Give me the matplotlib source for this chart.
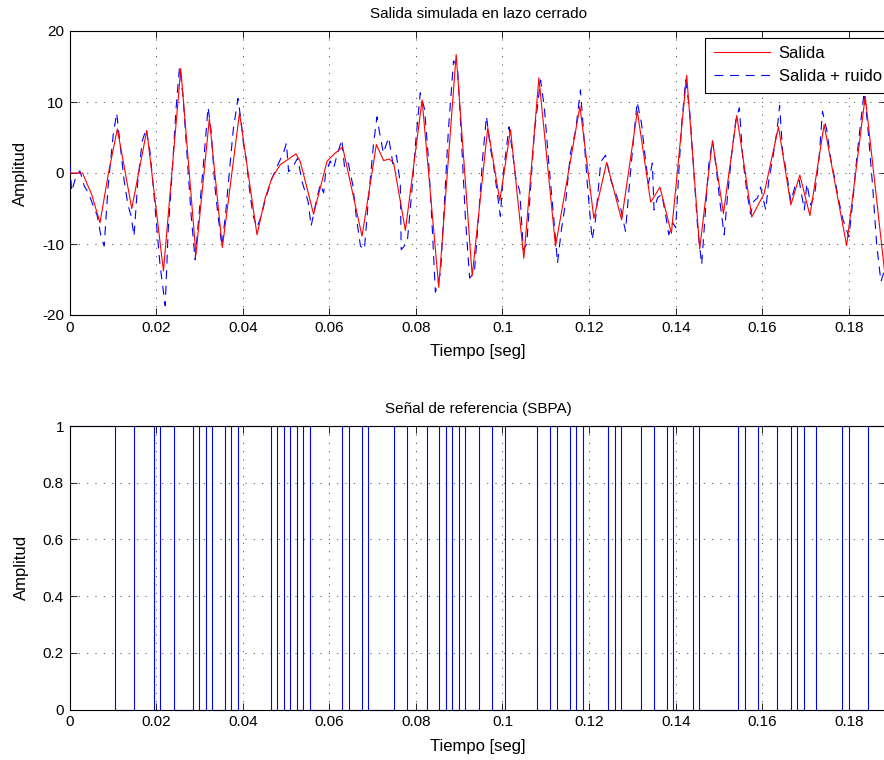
import numpy as np
import matplotlib
matplotlib.use('Agg')
from matplotlib import pyplot as plt

plt.rcParams['font.family'] = ['Liberation Sans', 'DejaVu Sans']
plt.rcParams['axes.unicode_minus'] = False

# salida (sin ruido)
t_sal = [0.0, 0.003, 0.0051, 0.00705, 0.009, 0.01105, 0.01438, 0.01785, 0.0217, 0.0257,
         0.0292, 0.0323, 0.0353, 0.03926, 0.0433, 0.0452, 0.04675, 0.04867, 0.0506, 0.0523,
         0.0533, 0.05637, 0.05947, 0.061, 0.06308, 0.06756, 0.07087, 0.07256, 0.07387, 0.07487,
         0.07757, 0.08143, 0.08528, 0.0893, 0.093, 0.0966, 0.09938, 0.10185, 0.10493, 0.1084,
         0.11225, 0.11788, 0.12111, 0.12405, 0.12751, 0.13114, 0.13422, 0.13637, 0.139, 0.14254,
         0.14555, 0.14848, 0.15103, 0.15411, 0.15757, 0.16042, 0.16374, 0.16659, 0.16867, 0.171,
         0.17428, 0.17947, 0.18377, 0.18832]
y_sal = [0.0, 0.0, -3.0, -7.0, 0.0, 6.2, -5.0, 6.0, -13.8, 14.7,
         -11.5, 7.65, -10.5, 8.45, -8.7, -3.5, -0.7, 1.17, 1.97, 2.7,
         1.6, -5.8, 1.65, 2.6, 3.66, -8.9, 4.0, 1.75, 1.97, 1.4,
         -8.1, 10.3, -16.1, 16.7, -14.5, 6.4, -3.9, 6.1, -12.0, 13.4,
         -10.3, 9.4, -6.4, 1.5, -6.6, 8.7, -4.1, -2.0, -8.5, 13.75,
         -10.7, 4.55, -5.7, 8.1, -6.2, -2.9, 6.5, -4.5, -0.3, -6.0,
         6.8, -10.2, 10.8, -14.3]

# salida + ruido
t_ruido = [0.0001, 0.0005, 0.0015, 0.0024, 0.0034, 0.0045, 0.0054, 0.0064, 0.0073, 0.0080,
           0.0089, 0.0101, 0.0109, 0.0117, 0.0126, 0.0135, 0.0142, 0.0149, 0.0158, 0.0168,
           0.0177, 0.0186, 0.0195, 0.0209, 0.0221, 0.0228, 0.0237, 0.0246, 0.0254, 0.0262,
           0.0272, 0.0281, 0.0290, 0.0299, 0.0309, 0.0320, 0.0327, 0.0336, 0.0343, 0.0352,
           0.0360, 0.0369, 0.0378, 0.0389, 0.0397, 0.0402, 0.0408, 0.0417, 0.0424, 0.0433,
           0.0443, 0.0452, 0.0468, 0.0483, 0.0494, 0.0501, 0.0506, 0.0514, 0.0527, 0.0537,
           0.0551, 0.0558, 0.0568, 0.0579, 0.0587, 0.0591, 0.0602, 0.0610, 0.0616, 0.0629,
           0.0635, 0.0643, 0.0654, 0.0662, 0.0672, 0.0681, 0.0690, 0.0702, 0.0710, 0.0718,
           0.0725, 0.0737, 0.0747, 0.0755, 0.0764, 0.0766, 0.0780, 0.0790, 0.0799, 0.0810,
           0.0820, 0.0829, 0.0838, 0.0845, 0.0857, 0.0866, 0.0875, 0.0887, 0.0896, 0.0905,
           0.0914, 0.0924, 0.0935, 0.0945, 0.0954, 0.0963, 0.0972, 0.0980, 0.0986, 0.0995,
           0.1002, 0.1015, 0.1023, 0.1030, 0.1040, 0.1048, 0.1056, 0.1065, 0.1074, 0.1088,
           0.1097, 0.1106, 0.1119, 0.1127, 0.1136, 0.1146, 0.1157, 0.1169, 0.1180, 0.1187,
           0.1196, 0.1207, 0.1215, 0.1227, 0.1238, 0.1250, 0.1265, 0.1273, 0.1284, 0.1294,
           0.1303, 0.1311, 0.1321, 0.1330, 0.1337, 0.1346, 0.1350, 0.1358, 0.1368, 0.1377,
           0.1384, 0.1393, 0.1400, 0.1407, 0.1414, 0.1423, 0.1432, 0.1442, 0.1451, 0.1460,
           0.1469, 0.1476, 0.1485, 0.1493, 0.1502, 0.1512, 0.1520, 0.1530, 0.1539, 0.1547,
           0.1555, 0.1564, 0.1573, 0.1580, 0.1589, 0.1596, 0.1608, 0.1615, 0.1624, 0.1634,
           0.1640, 0.1647, 0.1656, 0.1666, 0.1675, 0.1685, 0.1697, 0.1703, 0.1712, 0.1721,
           0.1731, 0.1739, 0.1749, 0.1758, 0.1768, 0.1777, 0.1786, 0.1793, 0.1800, 0.1809,
           0.1818, 0.1827, 0.1835, 0.1843, 0.1855, 0.1864, 0.1874, 0.1883]
y_ruido = [1.2, -2.6, -0.5, 0.3, -1.8, -3.0, -4.5, -6.0, -9.0, -10.3,
           -2.0, 5.4, 8.45, 4.0, -1.0, -4.5, -6.0, -8.9, -1.0, 4.5,
           6.2, 3.0, -3.0, -12.9, -18.7, -8.0, 0.0, 9.0, 14.9, 11.0,
           2.0, -6.0, -12.2, -6.0, 1.0, 9.25, 6.0, -2.0, -6.0, -10.3,
           -6.0, 0.0, 6.0, 10.5, 7.0, 4.0, 2.0, -3.0, -6.0, -7.7,
           -6.0, -3.8, -0.7, 1.4, 2.8, 4.2, 0.2, 0.7, 2.1, -1.2,
           -4.0, -7.5, -4.5, -1.6, -2.8, -0.2, 1.7, 0.7, 2.1, 4.7,
           0.9, 1.6, -1.6, -6.0, -10.3, -10.8, -4.0, 4.0, 7.9, 5.0,
           2.8, 5.0, 1.3, 2.5, -1.5, -10.8, -9.8, -3.0, 4.0, 11.3,
           9.0, 2.0, -8.0, -16.8, -14.0, -4.0, 6.0, 15.8, 15.0, 5.0,
           -6.0, -14.8, -14.0, -6.0, 2.0, 8.0, 3.5, 0.8, -2.0, -6.1,
           0.0, 6.5, 3.0, -0.5, -2.6, -10.8, -10.0, -2.0, 6.0, 13.1,
           9.0, 2.0, -6.8, -12.7, -8.0, -4.0, 2.8, 6.0, 11.7, 6.0,
           -1.6, -9.4, -6.5, 1.6, 2.5, -1.0, -3.5, -5.0, -8.2, -1.0,
           5.0, 10.0, 7.0, 2.0, -1.5, 1.4, -5.2, -3.5, -3.0, -6.0,
           -8.7, -7.0, -7.7, 0.0, 7.0, 13.1, 9.0, 0.0, -8.0, -12.9,
           -5.0, 1.0, 4.6, 1.0, -4.0, -8.7, -3.0, 3.0, 7.5, 9.2,
           2.0, -2.5, -5.8, -4.0, -3.5, -2.0, -5.2, -1.0, 2.0, 6.0,
           9.5, 3.0, 0.0, -4.0, -2.0, -1.0, -5.2, -1.5, -4.5, -3.0,
           2.0, 8.7, 6.0, 2.0, -1.0, -4.0, -6.5, -7.7, -9.0, -4.0,
           2.0, 7.0, 11.3, 7.0, -2.0, -10.0, -15.3, -13.5]

# senal de referencia SBPA: instantes de conmutacion, empieza en 1
u_inicio = 1
t_conm = [0.01045, 0.01491, 0.01947, 0.02099, 0.02409, 0.02855, 0.03001, 0.03149, 0.03302, 0.03595,
          0.03741, 0.03889, 0.04647, 0.04798, 0.04953, 0.05098, 0.05244, 0.05399, 0.05545, 0.06301,
          0.06446, 0.06747, 0.06895, 0.07496, 0.07797, 0.0825, 0.08543, 0.08689, 0.08844, 0.0899,
          0.09145, 0.0945, 0.09753, 0.10053, 0.10802, 0.11103, 0.11249, 0.11549, 0.11695, 0.1185,
          0.12444, 0.1259, 0.12745, 0.13198, 0.13498, 0.13799, 0.13947, 0.1440, 0.14548, 0.1545,
          0.15595, 0.15896, 0.16351, 0.16652, 0.16798, 0.16952, 0.17244, 0.17845, 0.17993, 0.18446]

x_max = 0.1888

W, H = 884, 760
fig = plt.figure(figsize=(W / 100, H / 100), dpi=100)
left = 69.5 / W
width = (887 - 69.5) / W
ax1 = fig.add_axes([left, 1 - 315 / H, width, 284 / H])
ax2 = fig.add_axes([left, 1 - 709.5 / H, width, 283.5 / H])

ax1.plot(t_sal, y_sal, color='#ff0000', lw=0.8, label='Salida', zorder=3)
ax1.plot(t_ruido, y_ruido, color='#0000ff', lw=0.8, linestyle=(0, (8, 6)),
         label='Salida + ruido', zorder=2.9)
ax1.set_ylim(-20, 20)
ax1.set_yticks([-20, -10, 0, 10, 20])

# escalones de la SBPA
t_u = [0.0] + t_conm + [x_max]
u = [u_inicio if i % 2 == 0 else 1 - u_inicio for i in range(len(t_conm) + 1)]
u = u + [u[-1]]
ax2.plot(t_u, u, color='#0000ff', lw=0.8, drawstyle='steps-post', clip_on=False, zorder=2)
ax2.set_ylim(0, 1)
ax2.set_yticks([0, 0.2, 0.4, 0.6, 0.8, 1])
ax2.set_yticklabels(['0', '0.2', '0.4', '0.6', '0.8', '1'])

xt = [0, 0.02, 0.04, 0.06, 0.08, 0.1, 0.12, 0.14, 0.16, 0.18]
xtl = ['0', '0.02', '0.04', '0.06', '0.08', '0.1', '0.12', '0.14', '0.16', '0.18']
for ax, titulo in [(ax1, 'Salida simulada en lazo cerrado'), (ax2, 'Señal de referencia (SBPA)')]:
    ax.set_xlim(0, x_max)
    ax.set_xticks(xt)
    ax.set_xticklabels(xtl)
    ax.grid(True, color='black', linestyle=(0, (1.5, 10.5)), lw=0.5)
    ax.tick_params(direction='in', length=5, width=0.6, top=True, right=True,
                   labelsize=11, pad=4, colors='black')
    for s in ax.spines.values():
        s.set_linewidth(0.8)
    ax.set_title(titulo, fontsize=11, pad=9)
    ax.set_xlabel('Tiempo [seg]', fontsize=12, labelpad=7)
    ax.set_ylabel('Amplitud', fontsize=12, labelpad=10)

leg = ax1.legend(loc='upper right', bbox_to_anchor=(890 / W, 1 - 37.5 / H),
                 bbox_transform=fig.transFigure, fontsize=12, frameon=True,
                 fancybox=False, framealpha=1, edgecolor='black', borderaxespad=0,
                 handlelength=3.4, borderpad=0.5, labelspacing=0.5, handletextpad=0.5)
leg.get_frame().set_linewidth(0.8)

fig.savefig('out.png', dpi=100)
